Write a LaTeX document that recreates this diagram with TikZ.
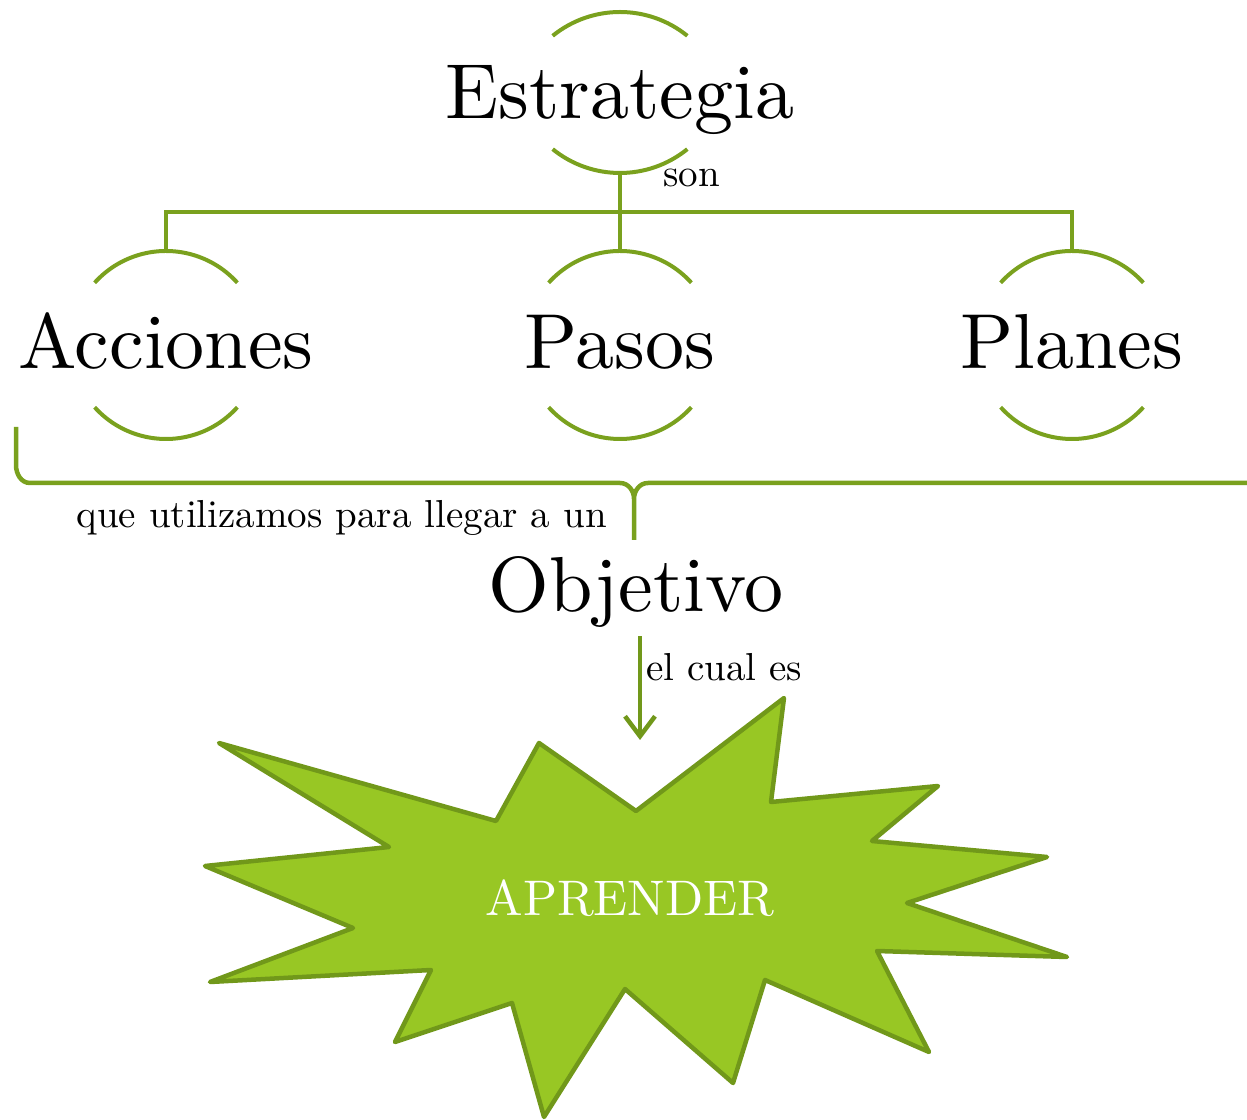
\documentclass[tikz,border=0pt]{standalone}
\usepackage{fontspec}
\setmainfont{lmroman10-regular.otf}
\usetikzlibrary{arrows.meta,calc}

\definecolor{leafline}{RGB}{122,161,30}
\definecolor{burstfill}{RGB}{152,199,36}
\definecolor{burstline}{RGB}{113,152,26}

% arcs over and under a word: node, radius, half angle, top centre, bottom centre
\newcommand{\wordarcs}[5]{%
  \draw[ring] ($(#1.base)+(0,#4)$) ++(90-#3:#2) arc[start angle=90-#3, end angle=90+#3, radius=#2];
  \draw[ring] ($(#1.base)+(0,#5)$) ++(270-#3:#2) arc[start angle=270-#3, end angle=270+#3, radius=#2];
  \coordinate (#1-top) at ($(#1.base)+(0,#4+#2)$);
  \coordinate (#1-bot) at ($(#1.base)+(0,#5-#2)$);
}

\begin{document}
\begin{tikzpicture}[x=1pt, y=1pt,
    word/.style={font=\fontsize{78}{80}\selectfont, inner sep=0pt, anchor=base},
    small/.style={font=\fontsize{39}{41}\selectfont, inner sep=0pt},
    ring/.style={draw=leafline, line width=4pt},
    link/.style={draw=leafline, line width=4pt},
    brace/.style={draw=leafline, line width=4.5pt},
    burst/.style={draw=burstline, fill=burstfill, line width=4.5pt, line join=round},
    flow/.style={draw=burstline, line width=4.5pt, -{Straight Barb[length=20pt,width=30pt]}}
]
\useasboundingbox (0,0) rectangle (1247,1119);

% Words
\node[word] (estr) at (620,1000) {Estrategia};
\node[word] (acc) at (166,750) {Acciones};
\node[word] (pasos) at (620,750) {Pasos};
\node[word] (plan) at (1072,750) {Planes};
\node[word] (obj) at (636,507) {Objetivo};

% Arcs round the words
\wordarcs{estr}{107}{39}{0}{53}
\wordarcs{acc}{96}{48}{22}{26}
\wordarcs{pasos}{96}{48}{22}{26}
\wordarcs{plan}{96}{48}{22}{26}

% Tree
\draw[link] (estr-bot) -- (pasos-top);
\draw[link] (acc-top) -- ++(0,39) -| (plan-top);
\node[small, anchor=base west] (son) at (663,932) {son};

% Brace
\draw[brace] (16,692) -- (16,654) to[out=-90,in=180] (30,636) -- (620,636)
    to[out=0,in=90] (634,620) -- (634,579) -- (634,620)
    to[out=90,in=180] (648,636) -- (1260,636);
\node[small, anchor=base east] (use) at (607,591) {que utilizamos para llegar a un};

% Arrow
\coordinate (goal) at (640,379);
\draw[flow] ($(obj.south -| goal)+(0,-8)$) -- (goal);
\node[small, anchor=base west] (which) at (646,438) {el cual es};

% Burst
\draw[burst] (219,376) -- (496,298) -- (539,376) -- (636,308) -- (784,421)
    -- (771,317) -- (938,333) -- (872,278) -- (1047,262) -- (907,216)
    -- (1067,162) -- (877,168) -- (929,67) -- (765,139) -- (733,36)
    -- (625,130) -- (544,2) -- (512,116) -- (395,77) -- (431,149)
    -- (210,137) -- (353,191) -- (205,253) -- (389,272) -- cycle;
\node[font=\fontsize{50}{52}\selectfont, text=white, inner sep=0pt, anchor=base] (learn) at (630,203) {APRENDER};

\end{tikzpicture}
\end{document}
